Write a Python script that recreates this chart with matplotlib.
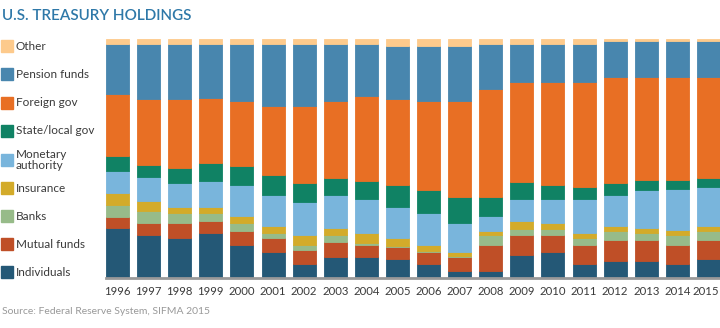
import matplotlib.pyplot as plt
import matplotlib.transforms as mtransforms
import numpy as np

plt.rcParams.update({'font.family': ['Lato', 'DejaVu Sans']})

years = [str(y) for y in range(1996, 2016)]

# percent of total holdings, bottom to top
individuals = [20.8, 17.9, 16.7, 19.0, 13.9, 10.9, 5.9, 8.9, 8.9, 7.9,
               5.9, 2.8, 2.8, 9.8, 10.9, 5.9, 7.0, 7.0, 5.9, 7.9]
mutual_funds = [4.9, 5.2, 6.3, 4.9, 5.9, 5.9, 6.0, 6.0, 5.0, 5.0,
                5.0, 6.1, 11.2, 8.1, 7.0, 8.1, 8.9, 8.9, 8.1, 7.9]
banks = [5.0, 4.9, 4.0, 3.2, 3.2, 2.1, 2.1, 2.9, 0.7, 0.3,
         0.3, 0.1, 4.0, 2.8, 2.8, 2.9, 3.9, 2.9, 3.9, 3.9]
insurance = [4.9, 4.2, 2.8, 2.8, 2.8, 2.9, 4.0, 2.9, 4.3, 3.6,
             2.8, 1.8, 1.8, 3.2, 2.4, 2.1, 2.0, 2.0, 2.0, 2.0]
monetary = [9.1, 9.9, 9.9, 10.9, 13.1, 13.1, 13.9, 14.1, 13.9, 13.0,
            13.1, 12.1, 6.0, 9.1, 9.9, 13.9, 13.1, 16.2, 17.2, 16.2]
state_local = [6.3, 5.0, 6.3, 7.3, 8.1, 8.1, 7.9, 7.1, 7.9, 9.1,
               9.9, 10.9, 8.1, 7.0, 6.0, 5.0, 5.0, 3.9, 3.9, 4.0]
foreign_gov = [26.1, 28.0, 29.0, 27.1, 26.9, 29.0, 32.1, 31.9, 35.1, 36.1,
               37.0, 40.0, 45.0, 42.1, 43.1, 44.1, 44.2, 43.2, 43.2, 42.1]
pension = [20.8, 22.7, 22.7, 22.7, 23.8, 25.8, 25.8, 23.8, 21.8, 21.9,
           23.0, 23.0, 18.8, 15.8, 15.8, 15.8, 14.9, 14.9, 14.9, 14.9]
other = [2.2, 2.2, 2.2, 2.2, 2.2, 2.2, 2.2, 2.2, 2.2, 3.1,
         3.1, 3.1, 2.2, 2.2, 2.2, 2.2, 1.0, 1.0, 1.0, 1.0]

series = [
    ('Individuals', individuals, '#245876'),
    ('Mutual funds', mutual_funds, '#bf4f27'),
    ('Banks', banks, '#97bb89'),
    ('Insurance', insurance, '#d3ab2a'),
    ('Monetary\nauthority', monetary, '#79b5dc'),
    ('State/local gov', state_local, '#108264'),
    ('Foreign gov', foreign_gov, '#e86f24'),
    ('Pension funds', pension, '#4886ae'),
    ('Other', other, '#fdca8c'),
]

fig = plt.figure(figsize=(7.2, 3.28), dpi=100)
ax = fig.add_axes([106 / 720, 50 / 328, 614 / 720, 239 / 328])

x = np.arange(len(years))
totals = np.sum([np.array(s[1]) for s in series], axis=0)
bottom = np.zeros(len(years))
for name, vals, col in series:
    h = np.array(vals) * 100.0 / totals
    ax.bar(x, h, bottom=bottom, width=0.74, color=col, edgecolor=col,
           linewidth=0.6, align='center')
    bottom += h

ax.set_xlim(-0.37, len(years) - 1 + 0.37)
ax.set_ylim(0, 100)
ax.set_yticks([])
ax.set_xticks(x)
ax.set_xticklabels(years, fontsize=8.2, color='#3a3a3a')
ax.tick_params(axis='x', length=0, pad=6)
# nudge the last year label so it stays inside the image
last = ax.get_xticklabels()[-1]
last.set_transform(last.get_transform() + mtransforms.ScaledTranslation(-3 / 100, 0, fig.dpi_scale_trans))
for s in ['top', 'right', 'left']:
    ax.spines[s].set_visible(False)
ax.spines['bottom'].set_color('#999999')
ax.spines['bottom'].set_linewidth(2)

# legend on the left, top to bottom
leg_y = [46, 74, 103, 131, 160, 188, 216, 244, 272]
for (name, vals, col), yy in zip(series[::-1], leg_y):
    fig.patches.append(plt.Rectangle((1 / 720, (328 - yy - 6) / 328), 12 / 720, 12 / 328,
                                     transform=fig.transFigure, color=col))
    fig.text(16 / 720, (328 - yy) / 328, name, fontsize=8.5, color='#3a3a3a',
             va='center', ha='left', linespacing=0.95)

fig.text(2 / 720, (328 - 16) / 328, 'U.S. TREASURY HOLDINGS', fontsize=11,
         color='#2e78a8', fontweight='semibold', va='center', ha='left')
fig.text(2 / 720, (328 - 312) / 328, 'Source: Federal Reserve System, SIFMA 2015',
         fontsize=7.5, color='#999999', va='center', ha='left')

fig.savefig('out.png', dpi=100)
